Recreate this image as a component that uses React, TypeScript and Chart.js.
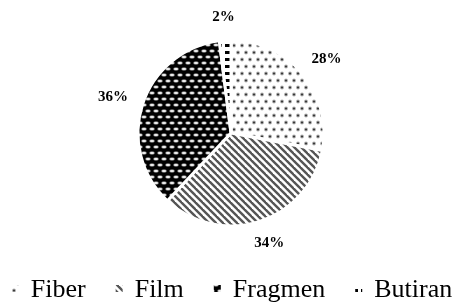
import React, { useEffect, useRef } from "react";
import { Chart, registerables } from "chart.js";

Chart.register(...registerables);

const categories = ["Fiber", "Film", "Fragmen", "Butiran"];
const shares = [28, 34, 36, 2];

function makeTile(w: number, h: number, draw: (c: CanvasRenderingContext2D) => void) {
  const cv = document.createElement("canvas");
  cv.width = w;
  cv.height = h;
  const c = cv.getContext("2d")!;
  draw(c);
  return cv;
}

function makePatterns(ctx: CanvasRenderingContext2D) {
  const dots = makeTile(8, 14, (c) => {
    c.fillStyle = "#fff";
    c.fillRect(0, 0, 8, 14);
    const dot = (x: number, y: number) => {
      c.fillStyle = "#b0b0b0";
      c.beginPath();
      c.arc(x, y, 2, 0, Math.PI * 2);
      c.fill();
      c.fillStyle = "#3a3a3a";
      c.beginPath();
      c.arc(x, y, 1.1, 0, Math.PI * 2);
      c.fill();
    };
    dot(2, 3.5);
    dot(6, 10.5);
  });
  const stripes = makeTile(7, 7, (c) => {
    c.fillStyle = "#fff";
    c.fillRect(0, 0, 7, 7);
    c.strokeStyle = "#555";
    c.lineWidth = 2.4;
    for (const k of [-7, 0, 7]) {
      c.beginPath();
      c.moveTo(k - 1, -1);
      c.lineTo(k + 8, 8);
      c.stroke();
    }
  });
  const ovals = makeTile(8, 12, (c) => {
    c.fillStyle = "#000";
    c.fillRect(0, 0, 8, 12);
    const ov = (x: number, y: number) => {
      c.fillStyle = "#888";
      c.beginPath();
      c.ellipse(x, y, 2.8, 1.7, 0, 0, Math.PI * 2);
      c.fill();
      c.fillStyle = "#f4f4f4";
      c.beginPath();
      c.ellipse(x, y, 2.1, 1.1, 0, 0, Math.PI * 2);
      c.fill();
    };
    ov(4, 3);
    ov(0, 9);
    ov(8, 9);
  });
  const dashes = makeTile(8, 7, (c) => {
    c.fillStyle = "#fff";
    c.fillRect(0, 0, 8, 7);
    c.fillStyle = "#000";
    c.fillRect(1, 2, 5, 3);
  });
  return [dots, stripes, ovals, dashes].map((t) => ctx.createPattern(t, "repeat")!);
}

const labelPlugin = {
  id: "outLabels",
  afterDatasetsDraw(chart: any) {
    const { ctx } = chart;
    const meta = chart.getDatasetMeta(0);
    ctx.save();
    ctx.font = 'bold 15px "Liberation Serif"';
    ctx.fillStyle = "#000";
    ctx.textAlign = "center";
    ctx.textBaseline = "middle";
    meta.data.forEach((arc: any, i: number) => {
      const { x, y, startAngle, endAngle, outerRadius } = arc.getProps(
        ["x", "y", "startAngle", "endAngle", "outerRadius"],
        true
      );
      const mid = (startAngle + endAngle) / 2;
      const dx = Math.cos(mid);
      const dy = Math.sin(mid);
      const text = shares[i] + "%";
      const hw = ctx.measureText(text).width / 2;
      const hh = 7;
      const r = outerRadius + 16;
      const cx = x + dx * r + dx * hw;
      const cy = y + dy * r + dy * hh;
      ctx.fillText(text, cx, cy);
    });
    ctx.restore();
  },
};

const legendPlugin = {
  id: "bottomLegend",
  afterDraw(chart: any) {
    const { ctx } = chart;
    const ds = chart.data.datasets[0];
    const fontSize = 26;
    const box = 7;
    const gap = 12;
    const pad = 30;
    ctx.save();
    ctx.font = `${fontSize}px "Liberation Serif"`;
    const widths = categories.map((t) => box + gap + ctx.measureText(t).width);
    const total = widths.reduce((a, b) => a + b, 0) + pad * (categories.length - 1);
    let x = (chart.width - total) / 2 + 2;
    const baseY = 297;
    categories.forEach((t, i) => {
      ctx.fillStyle = ds.backgroundColor[i];
      ctx.fillRect(x, baseY - 12, box, box);
      ctx.fillStyle = "#000";
      ctx.textBaseline = "alphabetic";
      ctx.textAlign = "left";
      ctx.fillText(t, x + box + gap, baseY);
      x += widths[i] + pad;
    });
    ctx.restore();
  },
};

export default function App() {
  const ref = useRef<HTMLCanvasElement>(null);
  useEffect(() => {
    const canvas = ref.current!;
    const ctx = canvas.getContext("2d")!;
    const patterns = makePatterns(ctx);
    const chart = new Chart(canvas, {
      type: "pie",
      data: {
        labels: categories,
        datasets: [
          {
            data: shares,
            backgroundColor: patterns as any,
            borderColor: "#fff",
            borderWidth: 3,
            hoverOffset: 0,
          },
        ],
      },
      options: {
        responsive: false,
        animation: false,
        radius: 93,
        layout: { padding: { top: 41, bottom: 83, left: 2, right: 0 } },
        plugins: {
          legend: { display: false },
          tooltip: { enabled: false },
        },
        events: [],
      } as any,
      plugins: [labelPlugin, legendPlugin],
    });
    return () => chart.destroy();
  }, []);
  return (
    <div style={{ position: "absolute", left: 0, top: 0, width: 460, height: 308, background: "#fff" }}>
      <canvas ref={ref} width={460} height={308} />
    </div>
  );
}
